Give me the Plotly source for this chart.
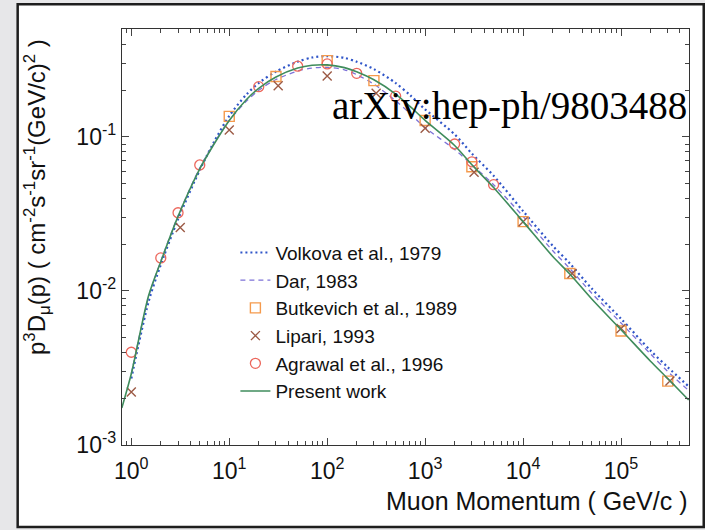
import plotly.graph_objects as go

# ---- model curves: p^3 D_mu(p) vs muon momentum p (GeV/c) ----
p_present = [0.8, 1, 1.5, 2, 3, 5, 7, 10, 15, 20, 30, 50, 70, 100, 150, 200, 300, 500, 700,
             1e3, 2e3, 3e3, 5e3, 1e4, 2e4, 3e4, 5e4, 1e5, 2e5, 3e5, 4.9e5]
present_work = [0.00174, 0.0029, 0.0093, 0.0155, 0.0305, 0.062, 0.090, 0.128, 0.175, 0.207,
                0.245, 0.280, 0.292, 0.294, 0.282, 0.265, 0.235, 0.190, 0.158,
                0.128, 0.088, 0.066, 0.047, 0.0282, 0.0168, 0.0129, 0.0089, 0.0056,
                0.0035, 0.0027, 0.00196]

p_model = [1, 1.5, 2, 3, 5, 7, 10, 15, 20, 30, 50, 70, 100, 150, 200, 300, 500, 700,
           1e3, 2e3, 3e3, 5e3, 1e4, 2e4, 3e4, 5e4, 1e5, 2e5, 3e5, 4.9e5]
volkova_1979 = [0.0027, 0.0085, 0.0148, 0.0292, 0.061, 0.093, 0.137, 0.189, 0.224, 0.266,
                0.308, 0.328, 0.335, 0.326, 0.308, 0.276, 0.224, 0.187,
                0.151, 0.104, 0.078, 0.056, 0.0330, 0.0197, 0.0151, 0.0104, 0.0066,
                0.0041, 0.0032, 0.00240]
dar_1983 = [0.0029, 0.0091, 0.0156, 0.0307, 0.063, 0.091, 0.128, 0.171, 0.201, 0.236,
            0.268, 0.280, 0.283, 0.273, 0.254, 0.220, 0.172, 0.142,
            0.115, 0.083, 0.066, 0.049, 0.0305, 0.0183, 0.0140, 0.0097, 0.0062,
            0.0039, 0.0030, 0.00226]

# ---- published points ----
p_butkevich = [10, 30, 100, 300, 1e3, 3e3, 1e4, 3e4, 1e5, 3e5]
butkevich_1989 = [0.136, 0.247, 0.313, 0.232, 0.128, 0.064, 0.0282, 0.0130, 0.0055, 0.0026]

p_lipari = [1, 3.16, 10, 31.6, 100, 316, 1e3, 3.16e3, 1e4, 3.16e4, 1e5, 3.16e5]
lipari_1993 = [0.00221, 0.0258, 0.111, 0.215, 0.249, 0.192, 0.114, 0.059, 0.0282, 0.0130,
               0.0057, 0.0026]

p_agrawal = [1, 2, 3, 5, 20, 50, 100, 200, 500, 2e3, 3e3, 5e3]
agrawal_1996 = [0.0040, 0.0164, 0.0322, 0.0658, 0.212, 0.288, 0.298, 0.259, 0.184, 0.090,
                0.069, 0.049]

# ---- axis ticks ----
x_tickvals = [1, 10, 100, 1e3, 1e4, 1e5]
x_ticktext = ["10<sup>0</sup>", "10<sup>1</sup>", "10<sup>2</sup>", "10<sup>3</sup>",
              "10<sup>4</sup>", "10<sup>5</sup>"]
y_tickvals = [1e-3, 1e-2, 1e-1]
y_ticktext = ["10<sup>-3</sup>", "10<sup>-2</sup>", "10<sup>-1</sup>"]

FONT = "Liberation Sans, Arial, Helvetica, sans-serif"

fig = go.Figure()

fig.add_trace(go.Scatter(
    x=p_model, y=volkova_1979, mode="lines", name="Volkova et al., 1979",
    line=dict(color="#2f55c8", width=2.2, dash="2px,3px", shape="spline", smoothing=0.8)))
fig.add_trace(go.Scatter(
    x=p_model, y=dar_1983, mode="lines", name="Dar, 1983",
    line=dict(color="#7d72d8", width=1.3, dash="5px,4px", shape="spline", smoothing=0.8)))
fig.add_trace(go.Scatter(
    x=p_butkevich, y=butkevich_1989, mode="markers", name="Butkevich et al., 1989",
    marker=dict(symbol="square-open", size=10, color="#f59a4c", line=dict(width=1.4))))
fig.add_trace(go.Scatter(
    x=p_lipari, y=lipari_1993, mode="markers", name="Lipari, 1993",
    marker=dict(symbol="x-thin-open", size=9, color="#9c5a45", line=dict(width=1.4, color="#9c5a45"))))
fig.add_trace(go.Scatter(
    x=p_agrawal, y=agrawal_1996, mode="markers", name="Agrawal et al., 1996",
    marker=dict(symbol="circle-open", size=10, color="#ec675c", line=dict(width=1.3))))
fig.add_trace(go.Scatter(
    x=p_present, y=present_work, mode="lines", name="Present work",
    line=dict(color="#3f8c5c", width=1.6, shape="spline", smoothing=0.8)))

minor_x = [k * 10 ** e for e in range(-1, 6) for k in range(2, 10)]
minor_y = [k * 10 ** e for e in range(-3, 0) for k in range(2, 10)]

axis_common = dict(
    type="log", showgrid=False, zeroline=False, showline=True, linecolor="#333",
    linewidth=1.3, mirror="allticks", ticks="inside", ticklen=7, tickwidth=1.2,
    tickcolor="#444", tickfont=dict(family=FONT, size=23, color="#111"),
)

fig.update_xaxes(
    **axis_common, range=[-0.095, 5.694], tickmode="array",
    tickvals=x_tickvals, ticktext=x_ticktext, ticklabelstandoff=5,
    minor=dict(tickmode="array", tickvals=minor_x, ticks="inside", ticklen=4,
               tickwidth=1, tickcolor="#444", showgrid=False))
fig.update_yaxes(
    **axis_common, range=[-3, -0.299], tickmode="array",
    tickvals=y_tickvals, ticktext=y_ticktext,
    minor=dict(tickmode="array", tickvals=minor_y, ticks="inside", ticklen=4,
               tickwidth=1, tickcolor="#444", showgrid=False))

fig.update_layout(
    width=705, height=530,
    margin=dict(l=122, r=16, t=29, b=85),
    paper_bgcolor="#e7e7e9", plot_bgcolor="rgba(0,0,0,0)",
    font=dict(family=FONT, color="#111"),
    showlegend=True,
    legend=dict(x=0.2, y=0.508, xanchor="left", yanchor="top",
                bgcolor="rgba(0,0,0,0)", borderwidth=0,
                font=dict(family=FONT, size=19, color="#111")),
    shapes=[dict(type="rect", xref="paper", yref="paper", layer="below",
                 x0=-0.184, x1=1.026, y0=-0.197, y1=1.0595,
                 fillcolor="white", line=dict(color="#1e1e1e", width=2.5))],
    annotations=[
        dict(text="p<sup>3</sup>D<sub>μ</sub>(p) ( cm<sup>-2</sup>s<sup>-1</sup>sr<sup>-1</sup>(GeV/c)<sup>2</sup> )",
             xref="paper", yref="paper", x=-0.15, y=0.596, textangle=-90,
             showarrow=False, xanchor="center", yanchor="middle",
             font=dict(family=FONT, size=24, color="#111")),
        dict(text="Muon Momentum ( GeV/c )", xref="paper", yref="paper",
             x=1.0, y=-0.135, xanchor="right", yanchor="middle", showarrow=False,
             font=dict(family=FONT, size=25, color="#111")),
        dict(text="arXiv:hep-ph/9803488", xref="paper", yref="paper",
             x=1.0, y=0.815, xanchor="right", yanchor="middle", showarrow=False,
             font=dict(family="Liberation Serif, Times New Roman, serif", size=39, color="#000")),
    ],
)

fig.write_html("out.html")
